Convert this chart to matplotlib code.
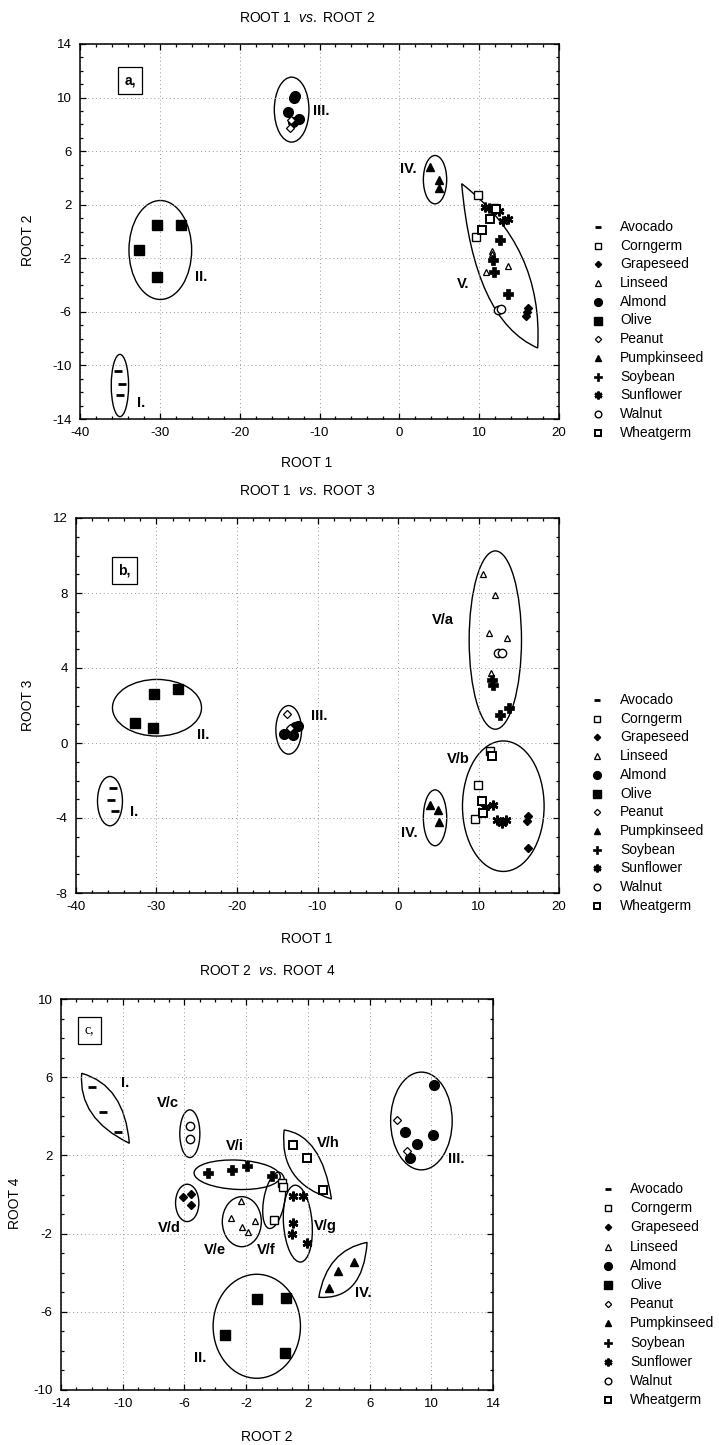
import numpy as np
import matplotlib
matplotlib.use("Agg")
from matplotlib import pyplot as plt
from matplotlib.patches import Ellipse, PathPatch
from matplotlib.path import Path
from matplotlib.lines import Line2D
from matplotlib.ticker import MultipleLocator

plt.rcParams['font.family'] = ['Liberation Sans', 'DejaVu Sans']
plt.rcParams['mathtext.fontset'] = 'custom'
plt.rcParams['mathtext.it'] = 'Liberation Sans:italic'
plt.rcParams['mathtext.rm'] = 'Liberation Sans'
plt.rcParams['axes.unicode_minus'] = False

species = ['Avocado', 'Corngerm', 'Grapeseed', 'Linseed', 'Almond', 'Olive',
           'Peanut', 'Pumpkinseed', 'Soybean', 'Sunflower', 'Walnut', 'Wheatgerm']

# ---- panel a: ROOT 1 vs ROOT 2 ----
a_sp = (['Avocado'] * 3 + ['Corngerm'] * 3 + ['Wheatgerm'] * 3 + ['Grapeseed'] * 3
        + ['Linseed'] * 5 + ['Almond'] * 5 + ['Olive'] * 4 + ['Peanut'] * 2
        + ['Pumpkinseed'] * 3 + ['Soybean'] * 4 + ['Sunflower'] * 5 + ['Walnut'] * 2)
a_x = [-35.3, -34.8, -35.0,
       9.8, 11.8, 9.6,
       11.3, 10.4, 12.1,
       16.1, 15.9, 16.0,
       11.65, 11.75, 13.6, 10.8, 11.6,
       -13.1, -13.2, -14.0, -12.6, -13.3,
       -30.4, -27.35, -32.6, -30.3,
       -13.6, -13.7,
       3.85, 5.0, 4.95,
       12.6, 11.7, 11.9, 13.65,
       10.75, 11.2, 12.5, 12.95, 13.55,
       12.4, 12.7]
a_y = [-10.4, -11.4, -12.2,
       2.7, 1.75, -0.4,
       0.9, 0.1, 1.7,
       -5.7, -6.3, -6.0,
       -1.45, -1.95, -2.55, -3.05, -1.7,
       10.1, 9.95, 8.95, 8.4, 8.2,
       0.5, 0.45, -1.35, -3.4,
       8.3, 7.75,
       4.85, 3.85, 3.25,
       -0.65, -2.1, -3.0, -4.7,
       1.8, 1.75, 1.55, 0.8, 0.9,
       -5.85, -5.75]

# ---- panel b: ROOT 1 vs ROOT 3 ----
b_sp = a_sp
b_x = [-35.35, -35.65, -35.15,
       11.45, 9.9, 9.55,
       11.65, 10.4, 10.6,
       16.1, 16.0, 16.2,
       10.6, 12.05, 11.35, 13.5, 11.55,
       -14.1, -13.0, -12.8, -12.4, -13.3,
       -30.25, -27.3, -32.65, -30.4,
       -13.75, -13.4,
       4.0, 4.95, 5.15,
       11.7, 11.85, 12.65, 13.8,
       10.75, 11.85, 12.25, 12.9, 13.4,
       12.4, 12.9]
b_y = [-2.4, -3.05, -3.65,
       -0.45, -2.25, -4.05,
       -0.7, -3.1, -3.75,
       -3.9, -4.15, -5.6,
       9.0, 7.9, 5.85, 5.6, 3.75,
       0.5, 0.45, 0.85, 0.9, 0.7,
       2.6, 2.9, 1.05, 0.8,
       1.55, 0.8,
       -3.3, -3.55, -4.2,
       3.35, 3.1, 1.5, 1.85,
       -3.4, -3.3, -4.1, -4.25, -4.1,
       4.8, 4.8]

# ---- panel c: ROOT 2 vs ROOT 4 ----
c_sp = a_sp
c_x = [-12.0, -11.3, -10.3,
       0.35, 0.4, -0.2,
       1.05, 1.95, 2.95,
       -6.1, -5.6, -5.6,
       -2.35, -3.0, -2.25, -1.9, -1.45,
       10.2, 8.3, 9.1, 8.6, 10.1,
       -1.3, 0.6, -3.35, 0.55,
       7.75, 8.4,
       3.4, 3.95, 5.0,
       -4.45, -2.9, -1.95, -0.35,
       1.05, 1.7, 1.05, 1.0, 1.95,
       -5.65, -5.65]
c_y = [5.5, 4.2, 3.2,
       0.6, 0.4, -1.3,
       2.55, 1.85, 0.25,
       -0.15, 0.05, -0.55,
       -0.35, -1.2, -1.65, -1.9, -1.35,
       5.6, 3.2, 2.6, 1.85, 3.05,
       -5.35, -5.3, -7.2, -8.1,
       3.8, 2.2,
       -4.8, -3.9, -3.45,
       1.1, 1.25, 1.45, 0.95,
       -0.1, -0.1, -1.45, -2.0, -2.5,
       3.5, 2.85]

# tick positions
a_xticks = [-40, -30, -20, -10, 0, 10, 20]
a_yticks = [-14, -10, -6, -2, 2, 6, 10, 14]
b_xticks = a_xticks
b_yticks = [-8, -4, 0, 4, 8, 12]
c_xticks = [-14, -10, -6, -2, 2, 6, 10, 14]
c_yticks = [-10, -6, -2, 2, 6, 10]

# marker style per species
styles = {
    'Avocado': dict(marker='_', ms=6, mew=2.0, mfc='k', mec='k'),
    'Corngerm': dict(marker='s', ms=6, mew=1.0, mfc='white', mec='k'),
    'Grapeseed': dict(marker='D', ms=4, mew=1.0, mfc='k', mec='k'),
    'Linseed': dict(marker='^', ms=5, mew=0.9, mfc='white', mec='k'),
    'Almond': dict(marker='o', ms=7, mew=1.0, mfc='k', mec='k'),
    'Olive': dict(marker='s', ms=7, mew=1.0, mfc='k', mec='k'),
    'Peanut': dict(marker='D', ms=4, mew=0.9, mfc='white', mec='k'),
    'Pumpkinseed': dict(marker='^', ms=6, mew=1.0, mfc='k', mec='k'),
    'Soybean': dict(marker='P', ms=7, mew=0.5, mfc='k', mec='k'),
    'Sunflower': dict(marker=(6, 2, 0), ms=7, mew=1.8, mfc='k', mec='k'),
    'Walnut': dict(marker='o', ms=6, mew=1.0, mfc='white', mec='k'),
    'Wheatgerm': dict(marker='s', ms=6, mew=1.4, mfc='white', mec='k'),
}

W, H = 719, 1445


def fig_xy(px, py):
    return px / W, 1 - py / H


def lens(ax, p0, c1, p1, c2):
    # closed shape from two quadratic curves
    verts = [p0, c1, p1, c2, p0, p0]
    codes = [Path.MOVETO, Path.CURVE3, Path.CURVE3, Path.CURVE3, Path.CURVE3, Path.CLOSEPOLY]
    ax.add_patch(PathPatch(Path(verts, codes), fill=False, lw=1.0, ec='k'))


def setup_axes(ax, xlim, ylim, xticks, yticks, xmin, ymin):
    ax.set_xlim(xlim)
    ax.set_ylim(ylim)
    ax.set_xticks(xticks)
    ax.set_yticks(yticks)
    ax.xaxis.set_minor_locator(MultipleLocator(xmin))
    ax.yaxis.set_minor_locator(MultipleLocator(ymin))
    ax.tick_params(which='both', direction='in', top=True, right=True,
                   labelsize=9.5, pad=6, width=0.9)
    ax.tick_params(which='major', length=4)
    ax.tick_params(which='minor', length=2.5)
    ax.grid(True, which='major', ls=(0, (1, 3)), color='#999999', lw=0.7)
    for s in ax.spines.values():
        s.set_linewidth(1.1)


def scatter(ax, xs, ys, sps):
    xs = np.array(xs)
    ys = np.array(ys)
    sps = np.array(sps)
    for name in species:
        m = sps == name
        if m.any():
            ax.plot(xs[m], ys[m], ls='none', zorder=3, **styles[name])


def legend(px, py0, step, tx):
    for i, name in enumerate(species):
        x, y = fig_xy(px, py0 + i * step)
        st = dict(styles[name])
        st['ms'] = st['ms'] * 0.8
        fig.add_artist(Line2D([x], [y], ls='none', transform=fig.transFigure, **st))
        fig.text(tx / W, y, name, fontsize=10, va='center', ha='left')


def box_label(ax, txt, x, y, family='Liberation Sans'):
    ax.text(x, y, txt, fontsize=10, fontweight='bold', family=family, ha='center', va='center',
            bbox=dict(boxstyle='square,pad=0.45', fc='white', ec='k', lw=0.9), zorder=4)


def cl_label(ax, txt, x, y):
    ax.text(x, y, txt, fontsize=10.5, fontweight='bold', ha='center', va='center', zorder=4)


fig = plt.figure(figsize=(W / 100, H / 100), dpi=100)

# ---------------- panel a ----------------
ax1 = fig.add_axes([80 / W, 1 - 419 / H, 479 / W, 375 / H])
setup_axes(ax1, (-40, 20), (-14, 14), a_xticks, a_yticks, 2, 1)
scatter(ax1, a_x, a_y, a_sp)
for cx, cy, w, h in [(-35.0, -11.5, 2.17, 4.65), (-29.94, -1.38, 7.85, 7.39),
                     (-13.49, 9.1, 4.34, 4.85), (4.47, 3.87, 2.92, 3.61)]:
    ax1.add_patch(Ellipse((cx, cy), w, h, fill=False, lw=1.0, ec='k'))
lens(ax1, (7.81, 3.57), (18.07, -1.13), (17.33, -8.7), (9.31, -6.61))
for t, x, y in [('III.', -9.73, 9.02), ('II.', -24.76, -3.42), ('I.', -32.36, -12.8),
                ('IV.', 1.13, 4.67), ('V.', 8.02, -3.92)]:
    cl_label(ax1, t, x, y)
box_label(ax1, 'a,', -33.74, 11.26)
fig.text(307 / W, 1 - 18 / H, 'ROOT 1  $\\mathit{vs.}$ ROOT 2', fontsize=10, ha='center', va='center')
fig.text(307 / W, 1 - 463 / H, 'ROOT 1', fontsize=10, ha='center', va='center')
fig.text(28 / W, 1 - 240 / H, 'ROOT 2', fontsize=10, ha='center', va='center', rotation=90)
legend(598, 227, 18.7, 620)

# ---------------- panel b ----------------
ax2 = fig.add_axes([76 / W, 1 - 893 / H, 483 / W, 375 / H])
setup_axes(ax2, (-40, 20), (-8, 12), b_xticks, b_yticks, 2, 1)
scatter(ax2, b_x, b_y, b_sp)
for cx, cy, w, h in [(-35.78, -3.1, 3.1, 2.63), (-29.94, 1.88, 11.06, 3.02),
                     (-13.58, 0.7, 3.19, 2.59), (4.6, -3.99, 2.9, 2.98),
                     (12.09, 5.49, 6.5, 9.51), (13.08, -3.37, 10.14, 6.96)]:
    ax2.add_patch(Ellipse((cx, cy), w, h, fill=False, lw=1.0, ec='k'))
for t, x, y in [('III.', -9.77, 1.44), ('II.', -24.18, 0.43), ('I.', -32.8, -3.69),
                ('IV.', 1.37, -4.81), ('V/a', 5.63, 6.55), ('V/b', 7.5, -0.87)]:
    cl_label(ax2, t, x, y)
box_label(ax2, 'b,', -34.0, 9.21)
fig.text(307 / W, 1 - 491 / H, 'ROOT 1  $\\mathit{vs.}$ ROOT 3', fontsize=10, ha='center', va='center')
fig.text(307 / W, 1 - 939 / H, 'ROOT 1', fontsize=10, ha='center', va='center')
fig.text(28 / W, 1 - 705 / H, 'ROOT 3', fontsize=10, ha='center', va='center', rotation=90)
legend(597, 700, 18.7, 620)

# ---------------- panel c ----------------
ax3 = fig.add_axes([61 / W, 1 - 1390 / H, 432 / W, 391 / H])
setup_axes(ax3, (-14, 14), (-10, 10), c_xticks, c_yticks, 1, 1)
scatter(ax3, c_x, c_y, c_sp)
for cx, cy, w, h, ang in [(-5.65, 3.11, 1.3, 2.44, 0), (-2.58, 1.01, 5.59, 1.5, -2),
                          (-5.82, -0.43, 1.51, 1.91, 0), (-2.28, -1.39, 2.53, 2.56, 0),
                          (-0.18, -0.3, 1.35, 2.95, -14), (1.35, -1.49, 1.85, 3.95, 6),
                          (-1.31, -6.74, 5.66, 5.32, 0), (9.36, 3.76, 3.99, 5.0, 0)]:
    ax3.add_patch(Ellipse((cx, cy), w, h, angle=ang, fill=False, lw=1.0, ec='k'))
lens(ax3, (-12.66, 6.2), (-9.885, 5.59), (-9.57, 2.62), (-12.9, 3.89))
lens(ax3, (0.46, 3.3), (2.905, 3.025), (3.53, -0.23), (0.105, 0.625))
lens(ax3, (2.71, -5.26), (3.225, -2.845), (5.84, -2.45), (5.585, -5.405))
for t, x, y in [('I.', -9.85, 5.69), ('V/c', -7.05, 4.66), ('V/i', -2.73, 2.48),
                ('V/d', -7.0, -1.73), ('V/e', -4.03, -2.84), ('V/f', -0.68, -2.84),
                ('V/h', 3.31, 2.62), ('V/g', 3.16, -1.61), ('IV.', 5.58, -5.05),
                ('II.', -5.0, -8.38), ('III.', 11.63, 1.8)]:
    cl_label(ax3, t, x, y)
ax3.text(-12.16, 8.41, 'c,', fontsize=10, family='Liberation Serif', ha='center', va='center',
         bbox=dict(boxstyle='square,pad=0.5', fc='white', ec='k', lw=0.9), zorder=4)
fig.text(267 / W, 1 - 971 / H, 'ROOT 2  $\\mathit{vs.}$ ROOT 4', fontsize=10, ha='center', va='center')
fig.text(267 / W, 1 - 1437 / H, 'ROOT 2', fontsize=10, ha='center', va='center')
fig.text(15 / W, 1 - 1203 / H, 'ROOT 4', fontsize=10, ha='center', va='center', rotation=90)
legend(608, 1189, 19.2, 630)

fig.savefig('out.png', dpi=100)
